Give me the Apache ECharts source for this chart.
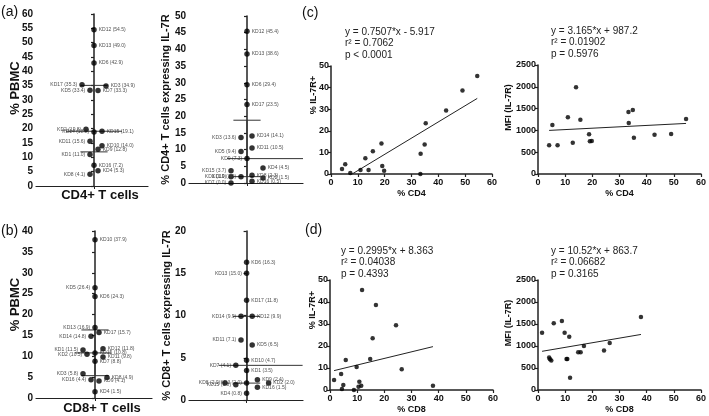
<!DOCTYPE html>
<html>
<head>
<meta charset="utf-8">
<script src="https://cdn.jsdelivr.net/npm/echarts@6/dist/echarts.min.js"></script>
<style>
  html, body { margin: 0; padding: 0; background: #fff; }
  #main { width: 709px; height: 416px; }
</style>
</head>
<body>
<div id="main"></div>
<script>
// donors KD1..KD17, values
const donors = ['KD1', 'KD2', 'KD3', 'KD4', 'KD5', 'KD6', 'KD7', 'KD8', 'KD9', 'KD10', 'KD11', 'KD12', 'KD13', 'KD14', 'KD15', 'KD16', 'KD17']
const cd4Pbmc = [11.0, 19.8, 34.9, 5.3, 33.4, 42.9, 33.3, 4.1, 12.8, 14.0, 15.6, 54.5, 49.0, 18.8, 19.1, 7.2, 35.3]
const cd4Il7r = [1.9, 1.5, 13.6, 4.5, 9.4, 29.4, 0.0, 2.3, 7.3, 1.9, 10.5, 45.4, 38.6, 14.1, 3.7, 0.5, 23.5]
const cd8Pbmc = [11.5, 10.5, 5.8, 1.5, 26.4, 24.3, 8.8, 4.9, 4.1, 37.9, 9.8, 11.8, 16.9, 14.8, 10.8, 4.4, 15.7]
const cd8Il7r = [3.5, 2.0, 2.0, 0.8, 6.5, 16.3, 4.1, 2.0, 2.4, 4.7, 7.1, 9.9, 15.0, 9.9, 1.8, 1.5, 11.8]
// MFI
const mfiCd4 = [1300, 757, 1468, 1124, 1170, 902, 1422, 657, 719, 1988, 1246, 1261, 917, 910, 749, 657, 833]
const mfiCd8 = [1212, 705, 1515, 1303, 1068, 900, 1568, 670, 740, 1659, 1303, 280, 1000, 856, 705, 700, 856]

// horizontal scatter (jitter) of the dots in the dot plots, same donor order
const jitA = [-1, -2, 3, 1, -1, 0, 1, -1, 1, 2, -1, 0, 0, 0, 2, 0, -3]
const jitA2 = [-4, 4, -1.5, 4, -1.5, 0, -4, 1.25, 0, -1.5, 1.25, 0, 0, 1.25, -4, 1.25, 0]
const jitB = [-3, -2, -3, 0, 0, 0, 0, 3, 1, 0, 2, 2, 0, -1, 0, -1, 1]
const jitB2 = [0, 5.5, 0, 0, 1.4, 0, -2.7, -5.4, 2.7, 0, -1.4, 1.4, 0, -1.4, -2.7, 2.7, 0]

// regression text shown on the scatter plots: [slope, intercept]
const fitCd4Pct = [0.7507, -5.917]
const fitCd4Mfi = [3.165, 987.2]
const fitCd8Pct = [0.2995, 8.363]
const fitCd8Mfi = [10.52, 863.7]
const eqText = [
    ['y = 0.7507*x - 5.917', 'r² = 0.7062', 'p < 0.0001'],
    ['y = 3.165*x + 987.2', 'r² = 0.01902', 'p = 0.5976'],
    ['y = 0.2995*x + 8.363', 'r² = 0.04038', 'p = 0.4393'],
    ['y = 10.52*x + 863.7', 'r² = 0.06682', 'p = 0.3165']
]

const FONT = 'Liberation Sans, Arial, sans-serif'

// Prism style quartile
function quant(arr, p) {
    let s = arr.slice().sort((a, b) => a - b)
    let h = (s.length + 1) * p
    let lo = Math.floor(h)
    if (lo < 1) return s[0]
    if (lo >= s.length) return s[s.length - 1]
    return s[lo - 1] + (h - lo) * (s[lo] - s[lo - 1])
}

let grids = [], xAxes = [], yAxes = [], series = [], graphic = []

function segment(idx, pts, w) {
    series.push({
        type: 'line', xAxisIndex: idx, yAxisIndex: idx, data: pts,
        symbol: 'none', silent: true, z: 1,
        lineStyle: { color: '#333', width: w || 1 }
    })
}

//点图 dot plot with median + IQR
function dotPanel(o) {
    let idx = grids.length
    grids.push(o.grid)
    xAxes.push({
        gridIndex: idx, type: 'value', min: o.xr[0], max: o.xr[1],
        splitLine: { show: false },
        axisLine: { show: true, lineStyle: { color: '#222', width: 1.2 } },
        axisTick: { show: true, customValues: [0], length: 3, lineStyle: { color: '#222' } },
        axisLabel: { show: false },
        name: o.xName, nameLocation: 'middle', nameGap: o.xGap, nameMoveOverlap: false,
        nameTextStyle: { fontFamily: FONT, fontWeight: 'bold', fontSize: 13, color: '#111', padding: [0, 0, 0, 16] }
    })
    yAxes.push({
        gridIndex: idx, type: 'value', min: 0, max: o.yMax, interval: 5,
        splitLine: { show: false },
        axisLine: { show: true, lineStyle: { color: '#222', width: 1.5 } },
        axisTick: { show: true, length: 3, lineStyle: { color: '#222', width: 1.2 } },
        axisLabel: { fontFamily: FONT, fontWeight: 'bold', fontSize: 10, color: '#111', margin: 3 },
        name: o.yName, nameLocation: 'middle', nameGap: o.yGap, nameMoveOverlap: false,
        nameTextStyle: { fontFamily: FONT, fontWeight: 'bold', fontSize: o.yNameSize, color: '#111', padding: o.yPad || 0 }
    })
    let med = quant(o.vals, 0.5), q1 = quant(o.vals, 0.25), q3 = quant(o.vals, 0.75)
    segment(idx, [[o.med[0], med], [o.med[1], med]])
    segment(idx, [[-3.4, q1], [3.4, q1]])
    segment(idx, [[-3.4, q3], [3.4, q3]])
    segment(idx, [[0, q1], [0, q3]])
    series.push({
        type: 'scatter', xAxisIndex: idx, yAxisIndex: idx, symbolSize: 5.5, z: 3,
        itemStyle: { color: '#000' },
        label: {
            show: true, fontFamily: FONT, fontSize: 5, color: '#222', distance: 2,
            formatter: p => p.name + ' (' + p.value[1].toFixed(1) + ')'
        },
        data: donors.map((d, i) => ({
            name: d,
            value: [o.jit[i], o.vals[i]],
            label: { position: (o.jit[i] < 0 || o.leftLab.includes(d)) ? 'left' : 'right' }
        }))
    })
}

//散点图 scatter with regression line
function scatterPanel(o) {
    let idx = grids.length
    grids.push(o.grid)
    let lab = { fontFamily: FONT, fontWeight: 'bold', fontSize: 9, color: '#111' }
    xAxes.push({
        gridIndex: idx, type: 'value', min: 0, max: 60, interval: 10,
        splitLine: { show: false },
        axisLine: { show: true, onZero: false, lineStyle: { color: '#222', width: 1.5 } },
        axisTick: { show: true, length: 3, lineStyle: { color: '#222', width: 1.2 } },
        axisLabel: Object.assign({ margin: 4 }, lab),
        name: o.xName, nameLocation: 'middle', nameGap: 15, nameMoveOverlap: false,
        nameTextStyle: lab
    })
    yAxes.push({
        gridIndex: idx, type: 'value', min: 0, max: o.yMax, interval: o.yMax / 5,
        splitLine: { show: false },
        axisLine: { show: true, onZero: false, lineStyle: { color: '#222', width: 1.5 } },
        axisTick: { show: true, length: 3, lineStyle: { color: '#222', width: 1.2 } },
        axisLabel: Object.assign({ margin: 2, formatter: v => String(v) }, lab),
        name: o.yName, nameLocation: 'middle', nameGap: o.yGap, nameMoveOverlap: false,
        nameTextStyle: Object.assign({ padding: o.yPad || 0 }, lab)
    })
    let m = o.fit[0], b = o.fit[1]
    let x0 = Math.min(...o.xs), x1 = Math.max(...o.xs)
    if (m * x0 + b < 0) x0 = -b / m
    series.push({
        type: 'line', xAxisIndex: idx, yAxisIndex: idx, symbol: 'none', silent: true, z: 1,
        lineStyle: { color: '#222', width: 1 },
        data: [[x0, m * x0 + b], [x1, m * x1 + b]]
    })
    series.push({
        type: 'scatter', xAxisIndex: idx, yAxisIndex: idx, symbolSize: 4.5, z: 3,
        itemStyle: { color: '#000' },
        data: o.xs.map((x, i) => [x, o.ys[i]])
    })
    graphic.push({
        type: 'text', left: o.eq[0], top: o.eq[1],
        style: { text: o.text.join('\n'), font: '10px ' + FONT, fill: '#222', lineHeight: 11.7 }
    })
}

dotPanel({
    grid: { left: 36, top: 14, width: 112, height: 172 }, xr: [-14.5, 13.5],
    vals: cd4Pbmc, jit: jitA, leftLab: ['KD14'], yMax: 60, med: [-7, 7],
    yName: '% PBMC', yGap: 14, yNameSize: 13, yPad: [0, 0, 0, 24], xName: 'CD4+ T cells', xGap: 3
})
dotPanel({
    grid: { left: 189, top: 16, width: 114, height: 167 }, xr: [-14.5, 14],
    vals: cd4Il7r, jit: jitA2, leftLab: ['KD9'], yMax: 50, med: [-5, 14],
    yName: '% CD4+ T cells expressing IL-7R', yGap: 18, yNameSize: 11, xName: '', xGap: 3
})
dotPanel({
    grid: { left: 36, top: 231, width: 116, height: 170 }, xr: [-14.75, 14.25],
    vals: cd8Pbmc, jit: jitB, leftLab: ['KD5', 'KD13'], yMax: 40, med: [-5, 4],
    yName: '% PBMC', yGap: 14, yNameSize: 13, yPad: [0, 0, 0, 20], xName: 'CD8+ T cells', xGap: 4
})
dotPanel({
    grid: { left: 189, top: 231, width: 114, height: 169 }, xr: [-14.4, 14.1],
    vals: cd8Il7r, jit: jitB2, leftLab: ['KD13', 'KD4', 'KD3'], yMax: 20, med: [-7, 14],
    yName: '% CD8+ T cells expressing IL-7R', yGap: 17, yNameSize: 11, xName: '', xGap: 3
})

scatterPanel({
    grid: { left: 331, top: 66, width: 161, height: 108 }, xs: cd4Pbmc, ys: cd4Il7r, yMax: 50,
    fit: fitCd4Pct, text: eqText[0], eq: [345, 26], xName: '% CD4', yName: '% IL-7R+', yGap: 13, yPad: [0, 0, 0, 50]
})
scatterPanel({
    grid: { left: 538, top: 65, width: 163, height: 109 }, xs: cd4Pbmc, ys: mfiCd4, yMax: 2500,
    fit: fitCd4Mfi, text: eqText[1], eq: [551, 25], xName: '% CD4', yName: 'MFI (IL-7R)', yGap: 25, yPad: [0, 0, 0, 24]
})
scatterPanel({
    grid: { left: 330, top: 280, width: 163, height: 110 }, xs: cd8Pbmc, ys: cd4Il7r, yMax: 50,
    fit: fitCd8Pct, text: eqText[2], eq: [341, 245], xName: '% CD8', yName: '% IL-7R+', yGap: 13, yPad: [0, 0, 0, 50]
})
scatterPanel({
    grid: { left: 538, top: 280, width: 163, height: 110 }, xs: cd8Pbmc, ys: mfiCd8, yMax: 2500,
    fit: fitCd8Mfi, text: eqText[3], eq: [551, 245], xName: '% CD8', yName: 'MFI (IL-7R)', yGap: 25, yPad: [0, 0, 0, 24]
})

// panel letters
let letters = [['(a)', 1, 5], ['(b)', 1, 224], ['(c)', 302, 6], ['(d)', 305, 223]]
letters.forEach(l => graphic.push({
    type: 'text', left: l[1], top: l[2],
    style: { text: l[0], font: '14px ' + FONT, fill: '#111' }
}))

let myChart = echarts.init(document.getElementById('main'), null, { renderer: 'canvas' })
myChart.setOption({
    animation: false,
    backgroundColor: '#fff',
    grid: grids.map(g => Object.assign({ containLabel: false }, g)),
    xAxis: xAxes,
    yAxis: yAxes,
    series: series,
    graphic: graphic
})
</script>
</body>
</html>
